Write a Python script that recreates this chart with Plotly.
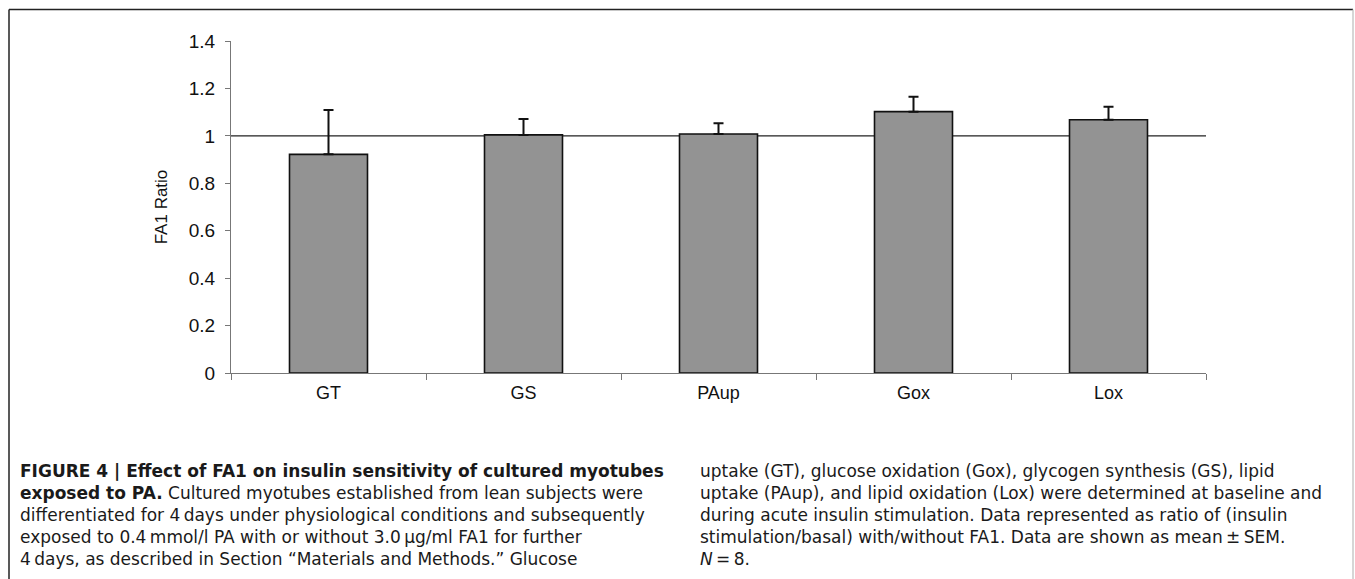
import plotly.graph_objects as go

categories = ["GT", "GS", "PAup", "Gox", "Lox"]
ratios = [0.922, 1.004, 1.008, 1.102, 1.068]
sem_plus = [0.187, 0.067, 0.045, 0.063, 0.055]
y_ticks = [0, 0.2, 0.4, 0.6, 0.8, 1, 1.2, 1.4]
y_tick_text = ["0", "0.2", "0.4", "0.6", "0.8", "1", "1.2", "1.4"]
reference_ratio = 1.0

caption_left = [
    "<b>FIGURE 4 | Effect of FA1 on insulin sensitivity of cultured myotubes</b>",
    "<b>exposed to PA.</b> Cultured myotubes established from lean subjects were",
    "differentiated for 4\u2009days under physiological conditions and subsequently",
    "exposed to 0.4\u2009mmol/l PA with or without 3.0\u2009\u03bcg/ml FA1 for further",
    "4\u2009days, as described in Section \u201cMaterials and Methods.\u201d Glucose",
]
caption_right = [
    "uptake (GT), glucose oxidation (Gox), glycogen synthesis (GS), lipid",
    "uptake (PAup), and lipid oxidation (Lox) were determined at baseline and",
    "during acute insulin stimulation. Data represented as ratio of (insulin",
    "stimulation/basal) with/without FA1. Data are shown as mean\u2009\u00b1\u2009SEM.",
    "<i>N</i>\u2009=\u20098.",
]

W, H = 1355, 579
L, R, T, B = 231, 149, 41, 206
PW = W - L - R
PH = H - T - B


def px(x):
    return (x - L) / PW


def py(y):
    return (H - B - y) / PH


fig = go.Figure()
fig.add_trace(go.Bar(
    x=categories, y=ratios,
    marker=dict(color="#939393", line=dict(color="#111111", width=1.6)),
    error_y=dict(type="data", array=sem_plus, arrayminus=[0] * len(sem_plus),
                 symmetric=False, color="#111111", thickness=2, width=5),
    width=0.4,
))

fig.add_shape(type="line", xref="paper", yref="y", x0=0, x1=1,
              y0=reference_ratio, y1=reference_ratio,
              line=dict(color="#222222", width=1.2), layer="below")

# figure frame
frame = dict(type="line", xref="paper", yref="paper")
fig.add_shape(**frame, x0=px(9), x1=px(1353), y0=py(9.5), y1=py(9.5),
              line=dict(color="#222222", width=1.5))
fig.add_shape(**frame, x0=px(9), x1=px(9), y0=py(9.5), y1=py(600),
              line=dict(color="#222222", width=1.5))
fig.add_shape(**frame, x0=px(1353), x1=px(1353), y0=py(9.5), y1=py(600),
              line=dict(color="#bbbbbb", width=1.2))

cap_font = "DejaVu Sans, Liberation Sans, Arial, sans-serif"
line_ys = [471, 493, 515, 537, 559]
for txt, yy in zip(caption_left, line_ys):
    fig.add_annotation(text=txt, xref="paper", yref="paper", x=px(18), y=py(yy),
                       xanchor="left", yanchor="middle", showarrow=False,
                       font=dict(family=cap_font, size=17, color="#1a1a1a"))
for txt, yy in zip(caption_right, line_ys):
    fig.add_annotation(text=txt, xref="paper", yref="paper", x=px(698), y=py(yy),
                       xanchor="left", yanchor="middle", showarrow=False,
                       font=dict(family=cap_font, size=17, color="#1a1a1a"))

fig.update_layout(
    width=W, height=H,
    margin=dict(l=L, r=R, t=T, b=B, pad=0),
    paper_bgcolor="white", plot_bgcolor="white",
    showlegend=False,
    font=dict(family="Liberation Sans, Arial, sans-serif", size=18, color="#111111"),
)
fig.update_xaxes(
    type="category", showline=True, linecolor="#777777", linewidth=1.2,
    ticks="outside", tickson="boundaries", ticklen=6, tickcolor="#777777",
    showgrid=False, tickfont=dict(size=18), range=[-0.5, 4.5],
    ticklabelstandoff=3,
)
fig.update_yaxes(
    range=[0, 1.4], tickvals=y_ticks, ticktext=y_tick_text,
    showline=True, linecolor="#777777", linewidth=1.2,
    ticks="outside", ticklen=5, tickcolor="#777777", showgrid=False,
    zeroline=False, tickfont=dict(size=19), ticklabelstandoff=6,
    title=dict(text="FA1 Ratio", font=dict(size=17), standoff=16),
)

fig.write_html("out.html")
